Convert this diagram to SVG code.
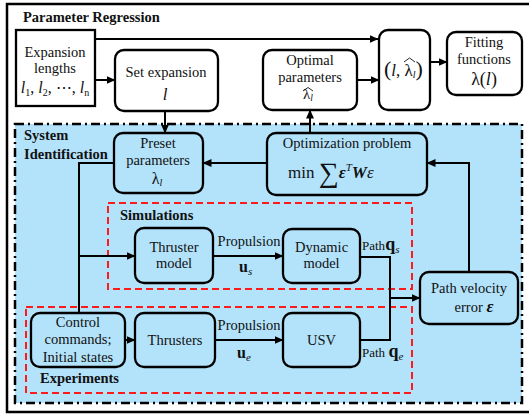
<svg xmlns="http://www.w3.org/2000/svg" width="529" height="417" viewBox="0 0 529 417">
<defs>
<marker id="ah" markerWidth="9" markerHeight="8" refX="8.5" refY="4" orient="auto" markerUnits="userSpaceOnUse">
<path d="M0,0 L9,4 L0,8 Z" fill="#000"/>
</marker>
<style>
.t{font-family:"Liberation Serif","Times New Roman",serif;font-size:14.5px;fill:#111;text-anchor:middle}
.b{font-family:"Liberation Serif","Times New Roman",serif;font-size:14.5px;font-weight:bold;fill:#111}
.m{font-family:"Liberation Serif","DejaVu Serif",serif;fill:#111}
.i{font-style:italic}
.node{fill:#b3e3fa;stroke:#000;stroke-width:2.3}
.wnode{fill:#fff;stroke:#000;stroke-width:2.3}
.c{fill:none;stroke:#000;stroke-width:2}
.hat{fill:none;stroke:#111;stroke-width:0.9}
.red{fill:none;stroke:#ff1a1a;stroke-width:2;stroke-dasharray:7,4}
</style>
</defs>
<rect x="0" y="0" width="529" height="417" fill="#fff"/>
<rect x="7" y="4" width="535" height="408" fill="none" stroke="#000" stroke-width="2.5"/>
<g id="system-identification">
<rect x="15" y="124" width="507" height="279" fill="#b3e3fa" stroke="#000" stroke-width="2.5" stroke-dasharray="9,4,2,4"/>
<text class="b" x="24" y="140">System</text>
<text class="b" x="24" y="159">Identification</text>
</g>
<text class="b" x="23" y="22">Parameter Regression</text>
<g id="simulations">
<rect class="red" x="108" y="203" width="304" height="86"/>
<text class="b" x="120" y="220">Simulations</text>
</g>
<g id="experiments">
<rect class="red" x="26" y="307" width="386" height="86"/>
<text class="b" x="40" y="383">Experiments</text>
</g>
<g id="connectors">
<path class="c" d="M95,39 H378" marker-end="url(#ah)"/>
<path class="c" d="M95,80 H115" marker-end="url(#ah)"/>
<path class="c" d="M165,111 V133" marker-end="url(#ah)"/>
<path class="c" d="M357,80 H379" marker-end="url(#ah)"/>
<path class="c" d="M430,62 H447" marker-end="url(#ah)"/>
<path class="c" d="M310,133 V110" marker-end="url(#ah)"/>
<path class="c" d="M267,163 H203" marker-end="url(#ah)"/>
<path class="c" d="M114,163 H79 V313"/>
<path class="c" d="M79,256 H135" marker-end="url(#ah)"/>
<path class="c" d="M213,256 H283" marker-end="url(#ah)"/>
<path class="c" d="M360,257 H390 V340 H360"/>
<path class="c" d="M390,298 H420" marker-end="url(#ah)"/>
<path class="c" d="M469,272 V163 H427" marker-end="url(#ah)"/>
<path class="c" d="M125,340 H135" marker-end="url(#ah)"/>
<path class="c" d="M215,340 H283" marker-end="url(#ah)"/>
<text class="t" x="249" y="246">Propulsion</text>
<text class="m" x="239" y="272" font-size="16" font-weight="bold">u<tspan class="i" font-weight="normal" font-size="11" dy="3">s</tspan></text>
<text class="t" x="249" y="330">Propulsion</text>
<text class="m" x="237" y="358" font-size="16" font-weight="bold">u<tspan class="i" font-weight="normal" font-size="11" dy="3">e</tspan></text>
<text class="m" x="362" y="250" font-size="13">Path<tspan font-size="18" font-weight="bold">q</tspan><tspan class="i" font-size="11" dy="3">s</tspan></text>
<text class="m" x="362" y="357" font-size="13">Path <tspan font-size="18" font-weight="bold">q</tspan><tspan class="i" font-size="11" dy="3">e</tspan></text>
</g>
<g id="expansion-lengths">
<rect class="wnode" x="16" y="30" width="79" height="76"/>
<text class="t" x="55" y="57">Expansion</text>
<text class="t" x="55" y="73">lengths</text>
<text class="m" x="55" y="93" font-size="16" text-anchor="middle"><tspan class="i">l</tspan><tspan font-size="10" dy="3">1</tspan><tspan dy="-3">, </tspan><tspan class="i">l</tspan><tspan font-size="10" dy="3">2</tspan><tspan dy="-3">, ⋯, </tspan><tspan class="i">l</tspan><tspan font-size="10" dy="3">n</tspan></text>
</g>
<g id="set-expansion">
<rect class="wnode" x="115" y="50" width="103" height="61" rx="9"/>
<text class="t" x="166" y="77">Set expansion</text>
<text class="m i" x="165" y="100" font-size="17" text-anchor="middle">l</text>
</g>
<g id="optimal-parameters">
<rect class="wnode" x="263" y="50" width="94" height="60" rx="9"/>
<text class="t" x="310" y="65">Optimal</text>
<text class="t" x="310" y="82">parameters</text>
<text class="m" x="303" y="99" font-size="15">λ<tspan class="i" font-size="9.5" dy="2">l</tspan></text>
<path class="hat" d="M303,91 L308,87.5 L313,91"/>
</g>
<g id="pair">
<rect class="wnode" x="379" y="30" width="51" height="80" rx="9"/>
<text class="m" x="384" y="76" font-size="17"><tspan font-size="22">(</tspan><tspan class="i">l</tspan>, λ<tspan class="i" font-size="10" dy="2">l</tspan><tspan font-size="22" dy="-2">)</tspan></text>
<path class="hat" d="M404,62 L409.5,58 L415,62"/>
</g>
<g id="fitting-functions">
<rect class="wnode" x="447" y="32" width="75" height="63" rx="9"/>
<text class="t" x="484" y="47">Fitting</text>
<text class="t" x="484" y="64">functions</text>
<text class="m" x="484" y="85" font-size="18" text-anchor="middle">λ(<tspan class="i">l</tspan>)</text>
</g>
<g id="preset-parameters">
<rect class="node" x="114" y="133" width="89" height="60" rx="9"/>
<text class="t" x="158" y="148">Preset</text>
<text class="t" x="158" y="165">parameters</text>
<text class="m" x="157" y="184" font-size="16" text-anchor="middle">λ<tspan class="i" font-size="10" dy="2">l</tspan></text>
</g>
<g id="optimization-problem">
<rect class="node" x="267" y="133" width="160" height="62" rx="9"/>
<text class="t" x="347" y="148">Optimization problem</text>
<text class="m" x="288" y="178" font-size="17">min <tspan font-size="28" dy="4">∑</tspan><tspan font-weight="bold" font-style="italic" dy="-4">ε</tspan><tspan class="i" font-size="11" dy="-7">T</tspan><tspan font-weight="bold" font-style="italic" dy="7">W</tspan><tspan class="i">ε</tspan></text>
</g>
<g id="thruster-model">
<rect class="node" x="135" y="228" width="78" height="55" rx="9"/>
<text class="t" x="174" y="252">Thruster</text>
<text class="t" x="174" y="268">model</text>
</g>
<g id="dynamic-model">
<rect class="node" x="283" y="229" width="77" height="54" rx="9"/>
<text class="t" x="321.5" y="252">Dynamic</text>
<text class="t" x="321.5" y="268">model</text>
</g>
<g id="path-velocity-error">
<rect class="node" x="420" y="272" width="98" height="52" rx="9"/>
<text class="t" x="469" y="293">Path velocity</text>
<text class="t" x="474" y="312">error <tspan class="i" font-weight="bold" font-size="17">ε</tspan></text>
</g>
<g id="control-commands">
<rect class="node" x="31" y="313" width="94" height="54" rx="9"/>
<text class="t" x="78" y="327">Control</text>
<text class="t" x="78" y="344">commands;</text>
<text class="t" x="78" y="362">Initial states</text>
</g>
<g id="thrusters">
<rect class="node" x="135" y="313" width="80" height="54" rx="9"/>
<text class="t" x="175" y="345">Thrusters</text>
</g>
<g id="usv">
<rect class="node" x="283" y="313" width="77" height="54" rx="9"/>
<text class="t" x="321.5" y="345">USV</text>
</g>
</svg>
